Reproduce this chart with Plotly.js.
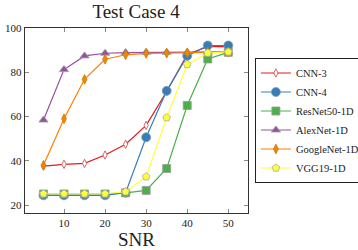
<!DOCTYPE html>
<html>
<head>
<meta charset="utf-8">
<script src="https://cdn.plot.ly/plotly-3.0.1.min.js"></script>
<style>html,body{margin:0;padding:0;background:#fff;}#chart{width:358px;height:250px;}</style>
</head>
<body>
<div id="chart"></div>
<script>
const snr = [5, 10, 15, 20, 25, 30, 35, 40, 45, 50];
const cnn3 = [37.6, 38.4, 38.8, 42.6, 47.5, 56.0, 71.3, 88.0, 91.6, 91.6];
const cnn4 = [24.4, 24.4, 24.4, 24.4, 25.6, 50.6, 71.6, 87.4, 92.1, 92.1];
const resnet50 = [25.0, 25.0, 25.0, 25.0, 25.5, 26.6, 36.5, 65.0, 86.0, 89.0];
const alexnet = [58.4, 81.2, 87.4, 88.6, 88.9, 89.0, 89.0, 89.0, 89.0, 89.2];
const googlenet = [38.0, 59.0, 76.8, 85.9, 87.9, 88.5, 88.6, 88.8, 89.0, 89.2];
const vgg19 = [25.1, 25.1, 25.1, 25.1, 26.0, 32.8, 59.5, 83.5, 88.7, 89.2];
const names = ["CNN-3", "CNN-4", "ResNet50-1D", "AlexNet-1D", "GoogleNet-1D", "VGG19-1D"];

const font = "Liberation Serif, DejaVu Serif, serif";
function tr(y, name, color, symbol, fill, size, edge) {
  return {
    x: snr, y: y, name: name, type: "scatter", mode: "lines+markers",
    line: {color: color, width: 1.2},
    marker: {symbol: symbol, size: size, color: fill, line: {color: edge, width: 0.8}}
  };
}
const data = [
  tr(cnn3, names[0], "#e41a1c", "diamond-tall", "#ffffff", 6, "#c44"),
  tr(cnn4, names[1], "#377eb8", "circle", "#377eb8", 9, "#8a9aaa"),
  tr(resnet50, names[2], "#4daf4a", "square", "#4daf4a", 8, "#999"),
  tr(alexnet, names[3], "#984ea3", "triangle-up", "#984ea3", 8, "#999"),
  tr(googlenet, names[4], "#ff7f00", "diamond-tall", "#ff7f00", 7, "#b8860b"),
  tr(vgg19, names[5], "#ffff33", "pentagon", "#ffff33", 8, "#aaa")
];
const axisCommon = {
  showgrid: false, zeroline: false, showline: true, mirror: "ticks",
  linecolor: "#333", linewidth: 1.2, ticks: "inside", ticklen: 4,
  tickcolor: "#888", tickfont: {family: font, size: 11, color: "#222"}
};
const layout = {
  width: 358, height: 250,
  margin: {l: 25, r: 110, t: 28, b: 37},
  paper_bgcolor: "#fff", plot_bgcolor: "#fff",
  font: {family: font, color: "#222"},
  title: {text: "Test Case 4", font: {family: font, size: 19, color: "#222"}, x: 0.38, xanchor: "center", y: 0.955, yanchor: "middle"},
  xaxis: Object.assign({}, axisCommon, {range: [0.5, 54.8], tickvals: [10, 20, 30, 40, 50],
    title: {text: "SNR", font: {family: font, size: 19, color: "#222"}, standoff: 4}}),
  yaxis: Object.assign({}, axisCommon, {range: [16.4, 100], tickvals: [20, 40, 60, 80, 100]}),
  legend: {xref: "container", yref: "container", x: 0.712, xanchor: "left", y: 0.52, yanchor: "middle",
    bordercolor: "#222", borderwidth: 1, bgcolor: "#fff",
    font: {family: font, size: 10.5, color: "#222"}, itemwidth: 30},
  showlegend: true
};
Plotly.newPlot("chart", data, layout, {displayModeBar: false, staticPlot: true});
</script>
</body>
</html>
